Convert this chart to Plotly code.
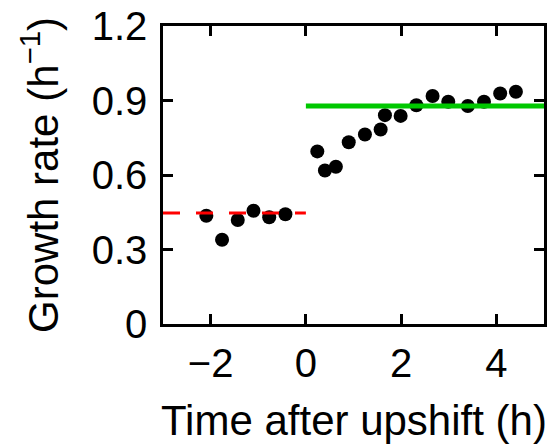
import plotly.graph_objects as go

# Data
time_pre = [-2.09, -1.76, -1.43, -1.10, -0.77, -0.43]
rate_pre = [0.436, 0.339, 0.419, 0.456, 0.430, 0.442]

time_post = [0.24, 0.40, 0.63, 0.90, 1.24, 1.57, 1.66, 1.99, 2.32, 2.66, 2.99, 3.40, 3.74, 4.08, 4.41]
rate_post = [0.695, 0.618, 0.633, 0.732, 0.763, 0.783, 0.841, 0.838, 0.881, 0.918, 0.895, 0.878, 0.895, 0.928, 0.935]

pre_mean_x = [-3, 0]
pre_mean_y = [0.447, 0.447]
post_mean_x = [0, 5]
post_mean_y = [0.878, 0.878]

xticks = [-2, 0, 2, 4]
yticks = [0, 0.3, 0.6, 0.9, 1.2]
yticklabels = ["0", "0.3", "0.6", "0.9", "1.2"]

FONT = "Liberation Sans, Arial, Helvetica, sans-serif"

fig = go.Figure()
fig.add_trace(go.Scatter(x=time_pre + time_post, y=rate_pre + rate_post, mode="markers",
                         marker=dict(color="black", size=14, line=dict(width=0)),
                         showlegend=False, cliponaxis=False))
fig.add_trace(go.Scatter(x=pre_mean_x, y=pre_mean_y, mode="lines",
                         line=dict(color="#ff0000", width=3, dash="17px,16px"),
                         showlegend=False))
fig.add_trace(go.Scatter(x=post_mean_x, y=post_mean_y, mode="lines",
                         line=dict(color="#00c800", width=5),
                         showlegend=False))

axis_common = dict(showline=True, linecolor="black", linewidth=2.5, mirror="ticks",
                   ticks="inside", ticklen=10, tickwidth=2.5, tickcolor="black",
                   showgrid=False, zeroline=False,
                   tickfont=dict(family=FONT, size=40, color="black"))

fig.update_xaxes(range=[-3, 5], tickvals=xticks, ticklabelstandoff=2, **axis_common)
fig.update_yaxes(range=[0, 1.2], tickvals=yticks, ticktext=yticklabels, ticklabelstandoff=5,
                 **axis_common)

fig.add_annotation(text="Time after upshift (h)", xref="paper", yref="paper",
                   x=0.5, y=-0.3245, xanchor="center", yanchor="middle", showarrow=False,
                   font=dict(family=FONT, size=42, color="black"))
fig.add_annotation(text="Growth rate (h<sup>−1</sup>)", xref="paper", yref="paper",
                   x=-0.323, y=0.5, xanchor="center", yanchor="middle", textangle=-90,
                   showarrow=False, font=dict(family=FONT, size=42, color="black"))

fig.update_layout(width=551, height=444, margin=dict(l=163, r=4, t=22, b=120),
                  plot_bgcolor="white", paper_bgcolor="white",
                  font=dict(family=FONT, color="black"))

fig.write_html("out.html")
